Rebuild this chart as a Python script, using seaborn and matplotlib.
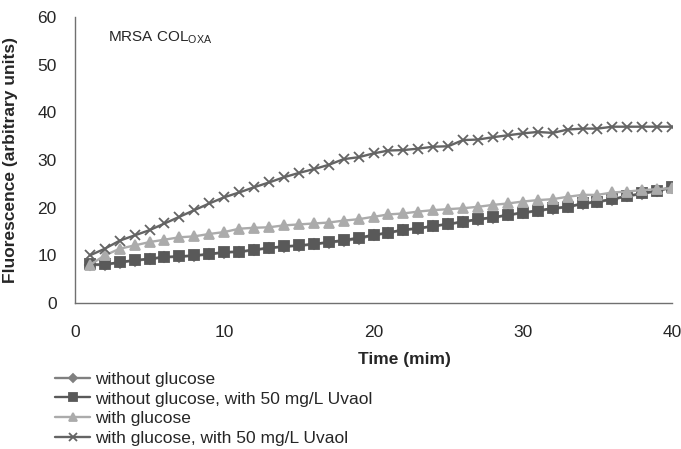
import numpy as np
import matplotlib
matplotlib.use("Agg")
import matplotlib.pyplot as plt
import seaborn as sns

# time points (min)
time_min = list(range(1, 41))

# fluorescence values (arbitrary units)
without_glucose = [8.0, 8.0, 8.5, 8.9, 9.2, 9.6, 9.7, 9.9, 10.2, 10.6,
                   10.7, 11.1, 11.5, 11.8, 12.0, 12.3, 12.7, 13.0, 13.5, 14.2,
                   14.7, 15.3, 15.6, 16.1, 16.5, 17.0, 17.5, 17.9, 18.4, 18.9,
                   19.3, 19.8, 20.1, 20.8, 21.2, 21.7, 22.4, 22.9, 23.5, 24.2]
without_glucose_uvaol = [8.1, 8.1, 8.6, 9.0, 9.3, 9.7, 9.8, 10.0, 10.3, 10.7,
                         10.8, 11.2, 11.6, 11.9, 12.1, 12.4, 12.8, 13.2, 13.7, 14.3,
                         14.8, 15.4, 15.7, 16.2, 16.6, 17.1, 17.6, 18.0, 18.5, 19.0,
                         19.4, 19.9, 20.2, 20.9, 21.3, 21.8, 22.5, 23.0, 23.6, 24.3]
with_glucose = [8.0, 10.0, 11.4, 12.1, 12.8, 13.3, 13.8, 14.0, 14.5, 14.9,
                15.6, 15.8, 15.9, 16.3, 16.5, 16.7, 16.9, 17.3, 17.6, 18.1,
                18.6, 18.8, 19.2, 19.5, 19.7, 19.9, 20.2, 20.6, 20.9, 21.3,
                21.6, 21.8, 22.3, 22.7, 22.7, 23.2, 23.4, 23.7, 23.9, 24.1]
with_glucose_uvaol = [10.0, 11.4, 13.1, 14.2, 15.3, 16.7, 18.1, 19.5, 20.9, 22.2,
                      23.2, 24.3, 25.3, 26.4, 27.3, 28.1, 29.0, 30.2, 30.6, 31.4,
                      32.0, 32.1, 32.4, 32.8, 32.9, 34.2, 34.3, 34.8, 35.2, 35.6,
                      35.9, 35.7, 36.4, 36.6, 36.6, 37.0, 37.0, 37.0, 37.0, 37.0]

labels = ["without glucose", "without glucose, with 50 mg/L Uvaol",
          "with glucose", "with glucose, with 50 mg/L Uvaol"]
colors = ["#808080", "#595959", "#ababab", "#646464"]
markers = ["D", "s", "^", "x"]
msizes = [5, 7, 7, 7]

sns.set_style("white")
plt.rcParams["font.family"] = ["Liberation Sans", "DejaVu Sans"]
plt.rcParams["mathtext.fontset"] = "custom"
plt.rcParams["mathtext.rm"] = "Liberation Sans"

fig = plt.figure(figsize=(6.81, 4.49), dpi=100)
ax = fig.add_axes([0.110, 0.325, 0.877, 0.637])

series = [without_glucose, without_glucose_uvaol, with_glucose, with_glucose_uvaol]
for vals, lab, col, mk, ms in zip(series, labels, colors, markers, msizes):
    sns.lineplot(x=time_min, y=vals, ax=ax, color=col, marker=mk, markersize=ms,
                 markeredgecolor=col, markeredgewidth=1.3, linewidth=1.7, label=lab)

ax.set_xlim(0, 40)
ax.set_ylim(0, 60)
ax.set_xticks([0, 10, 20, 30, 40])
ax.set_yticks([0, 10, 20, 30, 40, 50, 60])
for s in ["top", "right"]:
    ax.spines[s].set_visible(False)
for s in ["left", "bottom"]:
    ax.spines[s].set_color("#707070")
    ax.spines[s].set_linewidth(1.0)
ax.tick_params(axis="both", direction="out", length=4, width=1, color="#707070",
               labelsize=12.5)
ax.tick_params(axis="x", pad=12)
ax.tick_params(axis="y", pad=9)

ax.set_xlabel("Time (mim)", fontsize=12.5, fontweight="bold")
ax.set_ylabel("Fluorescence (arbitrary units)", fontsize=12.5, fontweight="bold")
ax.xaxis.set_label_coords(0.551, -0.17)
ax.yaxis.set_label_coords(-0.095, 0.5)

ax.text(0.055, 0.927, r"MRSA COL$_{\mathrm{OXA}}$", transform=ax.transAxes,
        fontsize=11, va="center", ha="left")

# legend sits under the axes; last entry kept fully inside the figure
handles, labs = ax.get_legend_handles_labels()
ax.get_legend().remove()
fig.legend(handles, labs, loc="upper left", bbox_to_anchor=(0.081, 0.1725),
           frameon=False, fontsize=12.5, handlelength=2.0, handletextpad=0.3,
           labelspacing=0.27, borderpad=0, borderaxespad=0, markerscale=0.75)

fig.savefig("out.png", dpi=100)
